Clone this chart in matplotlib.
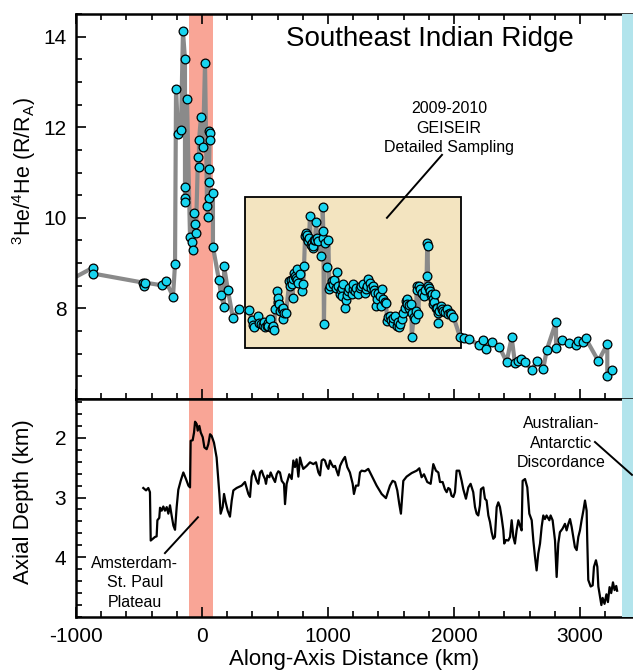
import numpy as np
import matplotlib
matplotlib.use("Agg")
import matplotlib.pyplot as plt
from matplotlib.patches import Rectangle
from matplotlib.ticker import MultipleLocator

plt.rcParams['font.family'] = ['Liberation Sans', 'DejaVu Sans']
plt.rcParams['mathtext.fontset'] = 'custom'
plt.rcParams['mathtext.rm'] = 'Liberation Sans'
plt.rcParams['mathtext.it'] = 'Liberation Sans:italic'
plt.rcParams['axes.unicode_minus'] = False

# ---------------- Data ----------------
# Helium isotopes, plume region (in sampling order)
he_km_plume = [-1100, -865, -865, -468, -462, -455, -317, -286, -230, -214, -206, -190, -167,
               -151, -135, -135, -135, -133, -119, -95, -79, -71, -64, -56, -48, -32, -24, -24,
               -8, 8, 24, 40, 48, 56, 64, 60, 56, 58, 56, 87, 87, 135, 151, 175, 175, 206, 246, 294]
he_plume = [8.55, 8.90, 8.77, 8.57, 8.49, 8.57, 8.51, 8.60, 8.26, 8.98, 12.85, 11.84, 11.93,
            14.12, 13.50, 10.68, 10.43, 10.36, 12.63, 9.58, 9.47, 9.28, 10.11, 9.87, 9.67, 11.35, 11.12, 11.71,
            12.22, 11.56, 13.41, 10.26, 10.02, 11.91, 11.88, 11.71, 11.08, 10.78, 10.44, 10.55, 9.36,
            8.62, 8.30, 8.04, 8.93, 8.40, 7.78, 7.98]

# Helium isotopes, ridge east of the plateau (incl. GEISEIR detailed sampling)
he_km_ridge = [376, 394, 407, 410, 447, 455, 465, 482, 490, 500, 515, 520, 527, 540, 553, 562, 574,
               580, 593, 600, 606, 614, 620, 632, 640, 646, 650, 667, 693, 700, 705, 712, 720, 725,
               730, 738, 745, 751, 758, 765, 778, 791, 804, 810, 818, 826, 830, 835, 844, 850, 857,
               863, 870, 878, 885, 890, 897, 905, 915, 923, 942, 958, 958, 963, 968, 976, 995, 1003,
               1011, 1020, 1029, 1042, 1050, 1060, 1069, 1082, 1095, 1100, 1109, 1115, 1122, 1135,
               1143, 1150, 1161, 1170, 1188, 1195, 1201, 1214, 1225, 1241, 1254, 1265, 1280, 1290,
               1302, 1310, 1320, 1333, 1340, 1355, 1365, 1373, 1381, 1392, 1400, 1413, 1420, 1426,
               1439, 1450, 1460, 1471, 1480, 1492, 1500, 1513, 1520, 1532, 1545, 1555, 1566, 1575,
               1585, 1598, 1610, 1619, 1625, 1630, 1640, 1646, 1655, 1664, 1664, 1680, 1691, 1700,
               1704, 1710, 1717, 1725, 1730, 1744, 1750, 1762, 1770, 1783, 1788, 1790, 1796, 1800,
               1810, 1815, 1823, 1830, 1836, 1845, 1849, 1857, 1865, 1876, 1876, 1885, 1894, 1905,
               1915, 1930, 1942, 1955, 1968, 1980, 1995, 2048, 2080, 2122, 2201, 2228, 2254, 2304,
               2360, 2418, 2458, 2484, 2511, 2532, 2564, 2617, 2656, 2709, 2736, 2810, 2810, 2860,
               2916, 2969, 2987, 3027, 3045, 3146, 3217, 3217, 3257]
he_ridge = [7.96, 7.74, 7.63, 7.60, 7.83, 7.68, 7.65, 7.63, 7.70, 7.60, 7.62, 7.68, 7.61, 7.76, 7.57, 7.62, 7.52,
            7.98, 8.38, 8.15, 8.23, 8.09, 7.95, 7.98, 8.02, 7.76, 7.90, 7.89, 8.60, 8.50, 8.62, 8.53, 8.23, 8.64,
            8.78, 8.71, 8.68, 8.86, 8.62, 8.56, 8.75, 8.38, 8.53, 8.93, 9.59, 9.66, 9.55, 9.62, 9.48, 9.55, 10.05,
            9.41, 9.45, 9.33, 9.38, 9.50, 9.51, 9.90, 9.55, 9.48, 9.15, 9.55, 10.23, 9.71, 7.65, 9.44, 8.91, 9.51,
            8.42, 8.50, 8.61, 8.53, 8.62, 8.45, 8.81, 8.49, 8.32, 8.40, 8.45, 8.28, 8.53, 8.01,
            8.18, 8.30, 8.38, 8.45, 8.31, 8.42, 8.53, 8.38, 8.45, 8.32, 8.45, 8.50, 8.53, 8.35,
            8.42, 8.50, 8.66, 8.56, 8.45, 8.49, 8.40, 8.34, 8.05, 8.20, 8.35, 8.27, 8.05, 8.42,
            8.20, 8.15, 8.12, 7.72, 7.80, 7.83, 7.75, 7.68, 7.78, 7.83, 7.61, 7.70, 7.58, 7.65,
            7.76, 7.90, 8.00, 8.16, 8.20, 8.09, 8.00, 8.07, 8.10, 7.90, 7.36, 7.80, 7.76, 7.95,
            8.49, 8.40, 7.87, 8.50, 8.42, 8.34, 8.35, 8.27, 8.40, 8.71, 9.44, 9.37, 8.49, 8.45,
            8.38, 8.30, 8.31, 8.20, 8.09, 8.15, 8.31, 8.02, 8.00, 7.90, 7.68, 7.95, 8.05, 7.98,
            7.94, 7.92, 7.98, 7.87, 7.90, 7.88, 7.82, 7.37, 7.34, 7.32, 7.19, 7.30, 7.11, 7.26,
            7.15, 6.82, 7.36, 6.79, 6.83, 6.88, 6.81, 6.64, 6.83, 6.67, 7.08, 7.70, 7.12, 7.30,
            7.23, 7.19, 7.27, 7.25, 7.34, 6.84, 7.21, 6.51, 6.64]

# Axial depth profile
depth_km = [-466, -444, -426, -413, -407, -373, -360, -354, -339, -333, -320, -307, -294, -280, -267,
            -254, -241, -227, -214, -201, -188, -169, -148, -127, -108, -95, -90, -74, -63, -55, -42,
            -34, -21, -10, 6, 19, 37, 50, 64, 77, 95, 116, 138, 148, 164, 175, 188, 204, 222, 236,
            249, 275, 315, 341, 368, 381, 394, 408, 421, 434, 447, 461, 474, 487, 500, 508, 519, 535,
            545, 561, 580, 593, 606, 619, 633, 651, 659, 672, 693, 712, 725, 738, 751, 765, 778, 791,
            804, 831, 857, 884, 905, 924, 937, 950, 963, 976, 990, 1003, 1016, 1029, 1043, 1056,
            1069, 1082, 1096, 1109, 1122, 1135, 1153, 1174, 1196, 1206, 1222, 1241, 1254, 1267,
            1293, 1320, 1346, 1386, 1426, 1460, 1492, 1513, 1532, 1550, 1566, 1579, 1598, 1624,
            1664, 1704, 1725, 1743, 1762, 1788, 1815, 1836, 1857, 1876, 1889, 1910, 1928, 1942,
            1955, 1968, 1981, 1995, 2008, 2021, 2042, 2061, 2074, 2095, 2114, 2132, 2153, 2167,
            2180, 2193, 2206, 2214, 2233, 2246, 2259, 2273, 2286, 2299, 2312, 2325, 2339, 2352,
            2365, 2378, 2392, 2399, 2413, 2431, 2445, 2458, 2471, 2484, 2497, 2511, 2524, 2537,
            2545, 2564, 2582, 2598, 2617, 2630, 2643, 2656, 2669, 2683, 2696, 2709, 2722, 2735,
            2757, 2767, 2783, 2802, 2815, 2828, 2841, 2862, 2881, 2894, 2908, 2921, 2934, 2947,
            2960, 2974, 2987, 3000, 3013, 3027, 3040, 3053, 3058, 3066, 3085, 3101, 3111, 3127,
            3138, 3146, 3159, 3170, 3180, 3195, 3210, 3222, 3235, 3248, 3262, 3275, 3288, 3295]
depth = [2.84, 2.88, 2.84, 2.91, 3.72, 3.66, 3.65, 3.38, 3.34, 3.17, 3.22, 3.15, 3.22, 3.16, 3.27,
         3.13, 3.30, 3.47, 3.54, 3.16, 2.87, 2.72, 2.58, 2.69, 2.80, 2.83, 2.05, 2.04, 1.91, 1.73, 1.77,
         1.88, 1.80, 1.91, 1.99, 2.16, 2.19, 2.11, 1.94, 1.97, 2.08, 2.33, 2.94, 3.27, 3.16, 2.94, 3.08, 3.22, 3.32, 3.05,
         2.88, 2.84, 2.80, 2.74, 2.94, 2.99, 2.65, 2.55, 2.63, 2.72, 2.77, 2.58, 2.55, 2.63, 2.69, 2.77, 2.63, 2.66,
         2.58, 2.66, 2.74, 2.61, 2.56, 2.58, 2.72, 2.77, 3.11, 2.77, 2.61, 2.69, 2.38, 2.49, 2.36, 2.65, 2.33, 2.44,
         2.52, 2.47, 2.41, 2.44, 2.41, 2.58, 2.63, 2.38, 2.36, 2.38, 2.47, 2.52, 2.38, 2.44, 2.49, 2.47,
         2.55, 2.63, 2.47, 2.41, 2.36, 2.32, 2.49, 2.58, 2.77, 2.94, 2.80, 2.80, 2.58, 2.55,
         2.56, 2.52, 2.63, 2.80, 2.94, 3.01, 2.80, 2.72, 2.74, 2.88, 3.11, 3.27, 2.72, 2.65,
         2.59, 2.55, 2.51, 2.66, 2.61, 2.74, 2.77, 2.44, 2.55, 2.58, 2.74, 2.74, 2.86, 2.91,
         2.84, 2.86, 2.97, 2.99, 2.91, 2.55, 2.55, 2.72, 2.86, 3.02, 2.83, 2.77, 2.91, 3.16,
         3.27, 3.30, 3.13, 2.86, 2.83, 3.02, 3.05, 3.30, 3.41, 3.58, 3.69, 3.66, 3.16, 3.08,
         3.16, 3.33, 3.55, 3.77, 3.71, 3.72, 3.66, 3.38, 3.66, 3.77, 3.55, 3.38, 3.47, 3.55,
         2.72, 2.69, 2.83, 3.27, 3.38, 3.72, 3.99, 4.22, 3.94, 3.77, 3.49, 3.30, 3.36, 3.30,
         3.38, 3.30, 3.38, 3.72, 4.33, 3.77, 3.58, 3.52, 3.44, 3.55, 3.44, 3.36, 3.49, 3.66,
         3.83, 3.88, 3.66, 3.55, 3.38, 3.22, 3.05, 3.22, 3.72, 4.38, 4.49, 4.47, 4.16, 4.05,
         4.16, 4.49, 4.66, 4.80, 4.68, 4.78, 4.62, 4.75, 4.50, 4.60, 4.42, 4.55, 4.48, 4.56]

# Highlighted regions (km)
asp_band = (-100, 85)       # Amsterdam-St. Paul Plateau
aad_band = (3333, 3600)     # Australian-Antarctic Discordance
geiseir_box = (341, 2056, 7.13, 10.46)  # x0, x1, y0, y1

x_ticklabels = ['-1000', '0', '1000', '2000', '3000']

# ---------------- Figure ----------------
W, H = 633, 672
fig = plt.figure(figsize=(W / 100, H / 100), dpi=100)

L = 76 / W
ax1 = fig.add_axes([L, 1 - 399 / H, 1 - L, 385 / H])
ax2 = fig.add_axes([L, 1 - 617 / H, 1 - L, 218 / H])

XMIN, XMAX = -1000, 3421
cyan_pt = '#18D4EF'
gray_line = '#8A8A8A'
red_band = '#F9A596'
cyan_band = '#B2E4EC'
box_fill = '#F3E4C0'

for ax in (ax1, ax2):
    ax.set_xlim(XMIN, XMAX)
    ax.axvspan(*asp_band, color=red_band, lw=0, zorder=0)
    ax.axvspan(*aad_band, color=cyan_band, lw=0, zorder=3)
    ax.spines['right'].set_visible(False)
    for s in ('left', 'top', 'bottom'):
        ax.spines[s].set_linewidth(1.8)
    ax.xaxis.set_major_locator(MultipleLocator(1000))
    ax.xaxis.set_minor_locator(MultipleLocator(200))
    ax.tick_params(which='both', direction='in', width=1.2, labelsize=15)
    ax.tick_params(which='major', length=7)
    ax.tick_params(which='minor', length=4.5)
    ax.tick_params(axis='y', pad=7)
    ax.tick_params(axis='x', pad=7)

# --- top panel ---
ax1.set_ylim(6.0, 14.5)
ax1.yaxis.set_major_locator(MultipleLocator(2))
ax1.yaxis.set_minor_locator(MultipleLocator(0.5))
ax1.set_yticks([8, 10, 12, 14])
ax1.tick_params(axis='x', which='both', top=True, bottom=True, labelbottom=False)

x0, x1, y0, y1 = geiseir_box
ax1.add_patch(Rectangle((x0, y0), x1 - x0, y1 - y0, facecolor=box_fill,
                        edgecolor='black', lw=1.3, zorder=1))

order = np.argsort(he_km_ridge, kind='stable')
km_all = np.concatenate([he_km_plume, np.asarray(he_km_ridge)[order]])
he_all = np.concatenate([he_plume, np.asarray(he_ridge)[order]])
ax1.plot(km_all, he_all, '-', color=gray_line, lw=3, zorder=2, solid_joinstyle='round')
ax1.plot(km_all, he_all, 'o', ms=6.3, mfc=cyan_pt, mec='black', mew=0.9, zorder=2.2)

ax1.text(1810, 13.95, 'Southeast Indian Ridge', fontsize=20, ha='center', va='center')
ax1.text(1960, 11.98, '2009-2010\nGEISEIR\nDetailed Sampling', fontsize=11.5,
         ha='center', va='center', linespacing=1.35)
ax1.plot([1905, 1468], [11.39, 10.0], color='black', lw=1.4, zorder=4)

ax1.set_ylabel(r'$^{3}$He/$^{4}$He (R/R$_{\mathrm{A}}$)', fontsize=15.5, va='center')
ax1.yaxis.set_label_coords(-0.093, 0.592)

# --- bottom panel ---
ax2.set_ylim(5.0, 1.35)
ax2.set_yticks([2, 3, 4])
ax2.yaxis.set_minor_locator(MultipleLocator(0.2))
ax2.tick_params(axis='x', which='both', top=False, bottom=True)
ax2.set_xticks([-1000, 0, 1000, 2000, 3000])
ax2.set_xticklabels(x_ticklabels)

ax2.plot(depth_km, depth, color='black', lw=1.6, zorder=2, solid_joinstyle='round')

ax2.text(-532, 4.43, 'Amsterdam-\nSt. Paul\nPlateau', fontsize=11.5, ha='center', va='center',
         linespacing=1.35)
ax2.plot([-294, -32], [3.93, 3.33], color='black', lw=1.4, zorder=4)
ax2.text(2849, 2.09, 'Australian-\nAntarctic\nDiscordance', fontsize=11.5, ha='center',
         va='center', linespacing=1.35)
ax2.plot([3119, 3413], [2.07, 2.62], color='black', lw=1.4, zorder=4, clip_on=False)

ax2.set_ylabel('Axial Depth (km)', fontsize=16, va='center')
ax2.yaxis.set_label_coords(-0.095, 0.528)
ax2.set_xlabel('Along-Axis Distance (km)', fontsize=16, va='center')
ax2.xaxis.set_label_coords(0.5, -(660 - 617) / 218)

fig.savefig('out.png', dpi=100)
